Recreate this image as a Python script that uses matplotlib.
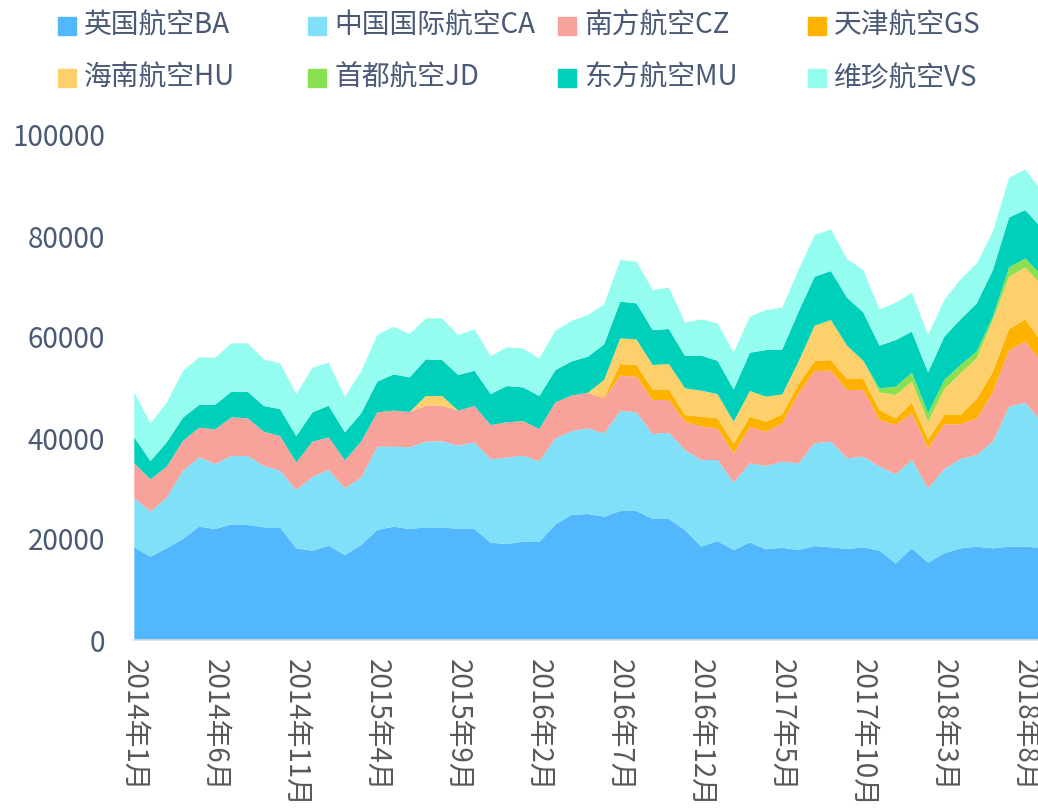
import numpy as np
import matplotlib
matplotlib.use("Agg")
from matplotlib import pyplot as plt
from matplotlib.patches import Rectangle

plt.rcParams['font.family'] = ['Noto Sans CJK SC', 'DejaVu Sans']

months = [f"{y}年{m}月" for y in range(2014, 2019) for m in range(1, 13)][:57]

ba = [18350, 16500, 18150, 20000, 22440, 21980, 22900, 22770, 22310, 22310,
      18150, 17690, 18680, 16830, 18810, 21780, 22440, 21980, 22310, 22310,
      21980, 21980, 19270, 19010, 19470, 19400, 22900, 24800, 24950, 24420,
      25540, 25540, 23960, 23960, 21780, 18480, 19600, 17820, 19340, 17950,
      18280, 17820, 18610, 18350, 18020, 18350, 17690, 15180, 18150, 15310,
      17160, 18150, 18480, 18150, 18480, 18480, 18220]
ca = [9700, 8910, 10030, 13460, 13730, 12870, 13530, 13660, 12140, 11220,
      11550, 14580, 14980, 13200, 13330, 16500, 15840, 16170, 16960, 17030,
      16500, 17160, 16500, 17090, 17030, 15980, 17030, 16550, 16960, 16500,
      19800, 19540, 16830, 17090, 15840, 17160, 16040, 13330, 15640, 16500,
      17030, 17160, 20330, 20920, 17950, 17950, 16630, 17620, 17490, 14720,
      16630, 17690, 18150, 21120, 27720, 28510, 24940]
cz = [6930, 6400, 6140, 5940, 5870, 6860, 7660, 7460, 6800, 6860,
      5480, 7000, 6470, 5540, 7130, 6800, 7130, 6990, 7130, 7060,
      6930, 7190, 6800, 7000, 6860, 6400, 7130, 7060, 7060, 6930,
      7000, 7060, 6730, 6470, 5610, 6600, 6270, 5810, 7130, 6800,
      7590, 13860, 14320, 14060, 13530, 13200, 9240, 9770, 9240, 7920,
      8910, 6860, 7260, 9770, 11220, 12080, 11880]
gs = [0] * 29 + [200, 2310, 2310, 2110, 2110, 1320, 1980, 1980, 1980, 2110, 1980,
                 1780, 1850, 1980, 2110, 2180, 2180, 1980, 1320, 2110, 1780,
                 1850, 1850, 3830, 4090, 4160, 4420, 3960]
hu = ([0] * 18 + [1910, 1910] + [0] * 9 +
      [3430, 5080, 5080, 4820, 5020, 5280, 5150, 4820, 4290, 5080, 4950,
       3960, 4420, 7000, 7920, 6600, 3630, 3500, 4620, 4160, 3500,
       5080, 8250, 8050, 10230, 10360, 10300, 11290])
jd = [0] * 46 + [790, 1650, 1780, 1650, 1850, 1650, 1320, 660, 1850, 1780, 1980]
mu = [5150, 3630, 4820, 4620, 4490, 4890, 5080, 5280, 5080, 5350,
      5210, 5810, 6270, 5550, 5610, 6070, 7190, 6870, 7260, 7130,
      7060, 7000, 6140, 7190, 6670, 6530, 6400, 6770, 7130, 7060,
      7260, 7130, 6930, 6930, 6400, 6930, 6600, 6400, 7590, 9240,
      8910, 9900, 9700, 9700, 9500, 9570, 8450, 9240, 8120, 8120,
      8580, 9040, 9570, 9240, 9900, 9570, 9310]
vs = [8910, 7460, 7850, 9240, 9440, 9300, 9570, 9570, 9240, 9040,
      8320, 8840, 8510, 7060, 8250, 9240, 9440, 8580, 8120, 8250,
      7920, 8180, 7520, 7660, 7720, 7460, 7790, 8020, 8250, 7920,
      8250, 8250, 7920, 8180, 6600, 7190, 7390, 7260, 7130, 7920,
      8250, 8250, 8250, 8250, 7660, 8380, 7190, 7390, 7720, 7390,
      7260, 7920, 7920, 7590, 7850, 8050, 7320]

names = ['英国航空BA', '中国国际航空CA', '南方航空CZ', '天津航空GS',
         '海南航空HU', '首都航空JD', '东方航空MU', '维珍航空VS']
colors = ['#53b7fe', '#7fe0f8', '#f8a29c', '#feb200',
          '#fed06c', '#8be052', '#00d0b9', '#95fdef']

fig = plt.figure(figsize=(10.38, 8.08), dpi=100)
ax = fig.add_axes([134.3 / 1038, 168 / 808, (1038 - 134.3) / 1038, 505 / 808])

x = np.arange(len(months))
ax.stackplot(x, ba, ca, cz, gs, hu, jd, mu, vs, colors=colors, linewidth=0)

ax.set_xlim(0, (1038 - 134.3) / 16.2)
ax.set_ylim(0, 100000)

ax.spines['right'].set_color('none')
ax.spines['top'].set_color('none')
ax.spines['left'].set_color('none')
ax.spines['bottom'].set_color('#d3dde9')
ax.spines['bottom'].set_linewidth(1.2)

ax.set_yticks([0, 20000, 40000, 60000, 80000, 100000])
ax.set_yticklabels(['0', '20000', '40000', '60000', '80000', '100000'])
ax.set_xticks(x[::5])
ax.set_xticklabels(months[::5], rotation=-90, va='top', ha='center')
ax.tick_params(axis='y', length=0, pad=21, labelsize=20, labelcolor='#4a5a76')
ax.tick_params(axis='x', length=0, pad=14, labelsize=20, labelcolor='#595959')

# legend drawn by hand: 4 columns, 2 rows
for k, name in enumerate(names):
    col, row = k % 4, k // 4
    px = 58 + 250 * col
    py = 26 + 52 * row
    fig.patches.append(Rectangle((px / 1038, 1 - (py + 9) / 808), 18 / 1038, 18 / 808,
                                 transform=fig.transFigure, color=colors[k]))
    fig.text((px + 26) / 1038, 1 - py / 808, name, fontsize=20, color='#4a5a76',
             va='center', ha='left')

fig.savefig('out.png', dpi=100)
